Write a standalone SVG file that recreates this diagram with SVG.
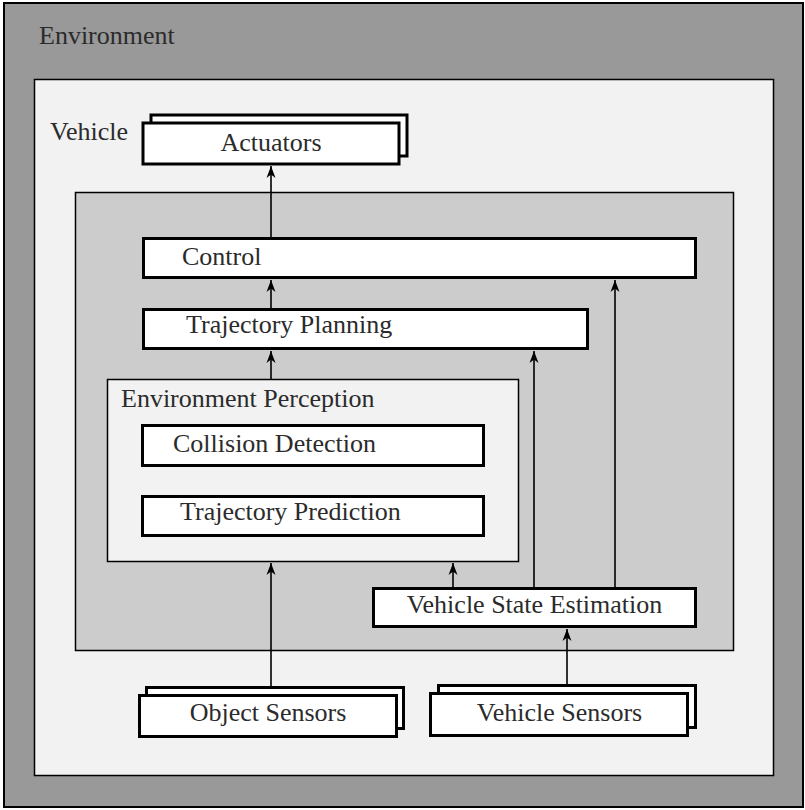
<svg xmlns="http://www.w3.org/2000/svg" width="805" height="810" viewBox="0 0 805 810">
  <style>
    text { font-family: "Liberation Serif", "Times New Roman", serif; font-size: 26px; fill: #2b2b2b; }
    .node { fill: #ffffff; stroke: #000000; stroke-width: 3; }
    .container { stroke: #000000; stroke-width: 1.5; }
    .conn { stroke: #000000; stroke-width: 1.6; fill: none; }
    .mid { text-anchor: middle; }
  </style>
  <defs>
    <marker id="arrow" markerUnits="userSpaceOnUse" viewBox="-13 -5 14 10" refX="0" refY="0" markerWidth="14" markerHeight="10" orient="auto">
      <path d="M0,0 L-12,-4.5 L-8.5,0 L-12,4.5 Z" fill="#000000"/>
    </marker>
  </defs>

  <g id="environment">
    <rect x="4" y="3" width="799" height="804" fill="#999999" stroke="#000000" stroke-width="2"/>
    <text x="39" y="44">Environment</text>
  </g>

  <g id="vehicle">
    <rect class="container" x="34.5" y="79.5" width="739" height="696" fill="#f2f2f2"/>
    <text x="50" y="140">Vehicle</text>
  </g>

  <g id="software">
    <rect class="container" x="75.5" y="192.5" width="658" height="458" fill="#cccccc"/>
  </g>

  <g id="actuators">
    <rect class="node" x="151" y="115" width="256" height="41"/>
    <rect class="node" x="143" y="123" width="256" height="41"/>
    <text class="mid" x="271" y="151">Actuators</text>
  </g>

  <g id="control">
    <rect class="node" x="143.5" y="238.5" width="552" height="39"/>
    <text x="182" y="265">Control</text>
  </g>

  <g id="trajectory-planning">
    <rect class="node" x="143.5" y="309.5" width="444" height="39"/>
    <text x="186" y="333">Trajectory Planning</text>
  </g>

  <g id="environment-perception">
    <rect class="container" x="107.5" y="379.5" width="411" height="182" fill="#f2f2f2"/>
    <text x="121" y="407">Environment Perception</text>
  </g>

  <g id="collision-detection">
    <rect class="node" x="142.5" y="425.5" width="341" height="40"/>
    <text x="173" y="452">Collision Detection</text>
  </g>

  <g id="trajectory-prediction">
    <rect class="node" x="142.5" y="496.5" width="341" height="39"/>
    <text x="180" y="520">Trajectory Prediction</text>
  </g>

  <g id="vehicle-state-estimation">
    <rect class="node" x="373.5" y="588.5" width="322" height="38"/>
    <text class="mid" x="534.5" y="613">Vehicle State Estimation</text>
  </g>

  <g id="object-sensors">
    <rect class="node" x="146.5" y="687.5" width="257" height="41"/>
    <rect class="node" x="139.5" y="695.5" width="257" height="41"/>
    <text class="mid" x="268" y="721">Object Sensors</text>
  </g>

  <g id="vehicle-sensors">
    <rect class="node" x="438.5" y="685.5" width="257" height="42"/>
    <rect class="node" x="430.5" y="693.5" width="257" height="42"/>
    <text class="mid" x="559.5" y="721">Vehicle Sensors</text>
  </g>

  <g id="connectors">
    <line class="conn" x1="271" y1="237" x2="271" y2="166" marker-end="url(#arrow)"/>
    <line class="conn" x1="271" y1="308" x2="271" y2="280" marker-end="url(#arrow)"/>
    <line class="conn" x1="271" y1="379" x2="271" y2="351" marker-end="url(#arrow)"/>
    <line class="conn" x1="271" y1="686" x2="271" y2="563" marker-end="url(#arrow)"/>
    <line class="conn" x1="453" y1="587" x2="453" y2="563" marker-end="url(#arrow)"/>
    <line class="conn" x1="534" y1="587" x2="534" y2="351" marker-end="url(#arrow)"/>
    <line class="conn" x1="615" y1="587" x2="615" y2="280" marker-end="url(#arrow)"/>
    <line class="conn" x1="567" y1="684" x2="567" y2="629" marker-end="url(#arrow)"/>
  </g>
</svg>
